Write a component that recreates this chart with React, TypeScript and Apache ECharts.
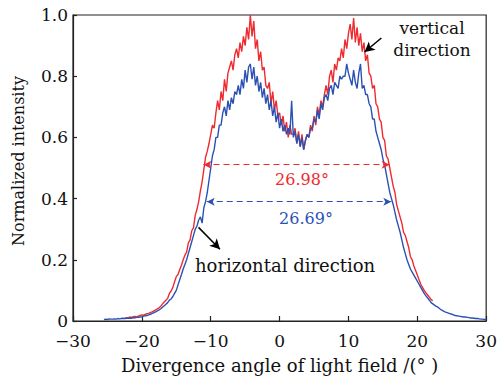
import React, { useEffect, useRef } from 'react';
import * as echarts from 'echarts';

// sampling grid (degrees)
const step = 0.25;
const verticalStart = -22.5;
const horizontalStart = -25.5;

// vertical direction (red), from -22.5 deg in 0.25 deg steps
const verticalIntensity = [
  0.008, 0.011,
  0.010, 0.013, 0.012, 0.014, 0.015, 0.013, 0.016, 0.018,
  0.020, 0.019, 0.022, 0.024, 0.025, 0.028, 0.030, 0.033,
  0.036, 0.040, 0.043, 0.048, 0.056, 0.062, 0.068, 0.074,
  0.090, 0.098, 0.110, 0.128, 0.145, 0.152, 0.168, 0.182,
  0.200, 0.215, 0.225, 0.255, 0.265, 0.295, 0.305, 0.345,
  0.365, 0.39, 0.425, 0.455, 0.495, 0.535, 0.555, 0.58,
  0.61, 0.64, 0.63, 0.68, 0.72, 0.69, 0.75, 0.72,
  0.79, 0.75, 0.81, 0.83, 0.85, 0.82, 0.87, 0.89,
  0.86, 0.91, 0.88, 0.93, 0.90, 0.96, 0.92, 1.00,
  0.93, 0.98, 0.89, 0.92, 0.85, 0.88, 0.82, 0.83,
  0.77, 0.76, 0.78, 0.71, 0.75, 0.69, 0.72, 0.67,
  0.68, 0.64, 0.67, 0.62, 0.65, 0.60, 0.64, 0.61,
  0.61, 0.63, 0.58, 0.62, 0.57, 0.61, 0.56, 0.59,
  0.61, 0.60, 0.64, 0.62, 0.67, 0.64, 0.70, 0.67,
  0.72, 0.70, 0.74, 0.77, 0.74, 0.80, 0.82, 0.78,
  0.84, 0.82, 0.86, 0.85, 0.89, 0.86, 0.92, 0.89,
  0.94, 0.97, 0.92, 0.99, 0.91, 0.96, 0.90, 0.94,
  0.88, 0.91, 0.85, 0.87, 0.81, 0.80, 0.76, 0.77,
  0.71, 0.70, 0.66, 0.65, 0.60, 0.59, 0.54, 0.53,
  0.50, 0.47, 0.44, 0.42, 0.38, 0.36, 0.34, 0.32,
  0.29, 0.28, 0.26, 0.24, 0.21, 0.20, 0.18, 0.165,
  0.15, 0.135, 0.12, 0.11, 0.10, 0.092, 0.085, 0.078,
  0.07, 0.066,
];

// horizontal direction (blue), from -25.5 deg in 0.25 deg steps
const horizontalIntensity = [
  0.004, 0.006, 0.005, 0.007, 0.006, 0.006,
  0.007, 0.006, 0.008, 0.007, 0.008, 0.009, 0.008, 0.009,
  0.009, 0.010, 0.009, 0.011, 0.010, 0.012, 0.012, 0.013,
  0.014, 0.016, 0.017, 0.018, 0.020, 0.022, 0.025, 0.027,
  0.030, 0.033, 0.036, 0.040, 0.045, 0.050, 0.055, 0.060,
  0.068, 0.072, 0.080, 0.090, 0.100, 0.118, 0.135, 0.152,
  0.170, 0.185, 0.20, 0.22, 0.24, 0.26, 0.28, 0.30,
  0.31, 0.33, 0.34, 0.32, 0.37, 0.39, 0.42, 0.46,
  0.50, 0.54, 0.56, 0.60, 0.60, 0.64, 0.64, 0.68,
  0.70, 0.67, 0.72, 0.69, 0.73, 0.71, 0.75, 0.74,
  0.77, 0.74, 0.79, 0.76, 0.82, 0.78, 0.83, 0.84,
  0.79, 0.83, 0.77, 0.80, 0.75, 0.78, 0.73, 0.76,
  0.71, 0.74, 0.69, 0.72, 0.67, 0.70, 0.65, 0.68,
  0.63, 0.66, 0.62, 0.64, 0.61, 0.63, 0.61, 0.72,
  0.60, 0.62, 0.58, 0.61, 0.57, 0.60, 0.56, 0.59,
  0.61, 0.60, 0.63, 0.63, 0.66, 0.65, 0.69, 0.66,
  0.71, 0.69, 0.73, 0.74, 0.72, 0.76, 0.77, 0.74,
  0.78, 0.77, 0.76, 0.80, 0.79, 0.80, 0.80, 0.84,
  0.81, 0.79, 0.77, 0.82, 0.78, 0.76, 0.81, 0.84,
  0.76, 0.77, 0.74, 0.74, 0.71, 0.70, 0.66, 0.66,
  0.62, 0.60, 0.58, 0.56, 0.53, 0.51, 0.48, 0.45,
  0.42, 0.40, 0.38, 0.355, 0.33, 0.31, 0.29, 0.265,
  0.24, 0.22, 0.20, 0.185, 0.17, 0.16, 0.15, 0.14,
  0.13, 0.12, 0.11, 0.10, 0.09, 0.082, 0.075, 0.068,
  0.06, 0.056, 0.052, 0.048, 0.045, 0.04, 0.036, 0.033,
  0.03, 0.028, 0.026, 0.024, 0.022, 0.02, 0.018, 0.017,
  0.016, 0.015, 0.014, 0.013, 0.013, 0.012, 0.011, 0.010,
  0.010, 0.009, 0.008, 0.008, 0.007, 0.006, 0.006, 0.005,
  0.005,
];

// full-width annotations: [left x, right x, level]
const verticalWidth = [-11.05, 15.98, 0.511];
const horizontalWidth = [-10.58, 16.22, 0.39];
const widthLabels = ['26.98°', '26.69°'];
const seriesNames = ['vertical direction', 'horizontal direction'];

const RED = '#ee2b2f';
const BLUE = '#2b52b3';
const FONT = "'DejaVu Serif', 'Liberation Serif', serif";

export default function App() {
  const ref = useRef<HTMLDivElement>(null);
  useEffect(() => {
    document.body.style.margin = '0';
    const chart = echarts.init(ref.current!, null, { renderer: 'svg' });
    const red = verticalIntensity.map((v, i) => [verticalStart + i * step, v]);
    const blue = horizontalIntensity.map((v, i) => [horizontalStart + i * step, v]);
    const dashArrow = (w: number[], color: string) => ({
      silent: true,
      symbol: ['arrow', 'arrow'],
      symbolSize: [6, 8],
      label: { show: false },
      lineStyle: { color, type: [6, 4], width: 1.2 },
      data: [[{ coord: [w[0], w[2]] }, { coord: [w[1], w[2]] }]],
    });
    chart.setOption({
      animation: false,
      textStyle: { fontFamily: FONT },
      grid: { left: 73, right: 9, top: 15, bottom: 57, show: true, borderColor: '#222', borderWidth: 1.2 },
      xAxis: {
        type: 'value', min: -30, max: 30, interval: 10,
        name: 'Divergence angle of light field /(° )', nameLocation: 'middle', nameGap: 35,
        nameTextStyle: { fontFamily: FONT, fontSize: 18, color: '#111' },
        axisLine: { onZero: false, lineStyle: { color: '#222', width: 1.2 } },
        axisTick: { inside: true, length: 5, lineStyle: { color: '#222', width: 1.2 } },
        axisLabel: {
          fontFamily: FONT, fontSize: 17, color: '#111', margin: 11,
          formatter: (v: number) => String(v).replace('-', '\u2212'),
        },
        splitLine: { show: false },
      },
      yAxis: {
        type: 'value', min: 0, max: 1, interval: 0.2,
        axisLine: { show: true, onZero: false, lineStyle: { color: '#222', width: 1.2 } },
        axisTick: { show: true, inside: true, length: 4, lineStyle: { color: '#222', width: 1.2 } },
        axisLabel: {
          fontFamily: FONT, fontSize: 17, color: '#111', margin: 5, lineHeight: 13,
          formatter: (v: number) => (v === 0 ? '0' : v.toFixed(1)),
        },
        splitLine: { show: false },
      },
      series: [
        {
          name: seriesNames[0], type: 'line', data: red, showSymbol: false,
          lineStyle: { color: RED, width: 1.4 }, itemStyle: { color: RED },
          markLine: dashArrow(verticalWidth, RED),
        },
        {
          name: seriesNames[1], type: 'line', data: blue, showSymbol: false,
          lineStyle: { color: BLUE, width: 1.4 }, itemStyle: { color: BLUE },
          markLine: dashArrow(horizontalWidth, BLUE),
        },
        {
          type: 'line', data: [], silent: true,
          markLine: {
            silent: true,
            symbol: ['none', 'arrow'],
            symbolSize: [8, 10],
            label: { show: false },
            lineStyle: { color: '#000', type: 'solid', width: 1.5 },
            data: [
              [{ coord: [14.78, 0.925] }, { coord: [12.34, 0.879] }],
              [{ coord: [-11.77, 0.306] }, { coord: [-8.66, 0.2345] }],
            ],
          },
        },
      ],
      graphic: [
        {
          type: 'text', x: 18, y: 161, rotation: Math.PI / 2,
          style: { text: 'Normalized intensity', fontFamily: FONT, fontSize: 16, fill: '#111', align: 'center', verticalAlign: 'middle' },
        },
        {
          type: 'text', x: 302, y: 179,
          style: { text: widthLabels[0], fontFamily: FONT, fontSize: 16, fill: RED, align: 'center', verticalAlign: 'middle' },
        },
        {
          type: 'text', x: 306, y: 218,
          style: { text: widthLabels[1], fontFamily: FONT, fontSize: 16, fill: BLUE, align: 'center', verticalAlign: 'middle' },
        },
        {
          type: 'text', x: 432, y: 39,
          style: { text: 'vertical\ndirection', fontFamily: FONT, fontSize: 17, fill: '#111', align: 'center', verticalAlign: 'middle', lineHeight: 22 },
        },
        {
          type: 'text', x: 195, y: 265,
          style: { text: seriesNames[1], fontFamily: FONT, fontSize: 18, fill: '#111', align: 'left', verticalAlign: 'middle' },
        },
      ],
    });
    return () => chart.dispose();
  }, []);
  return <div ref={ref} style={{ width: 500, height: 379 }} />;
}
